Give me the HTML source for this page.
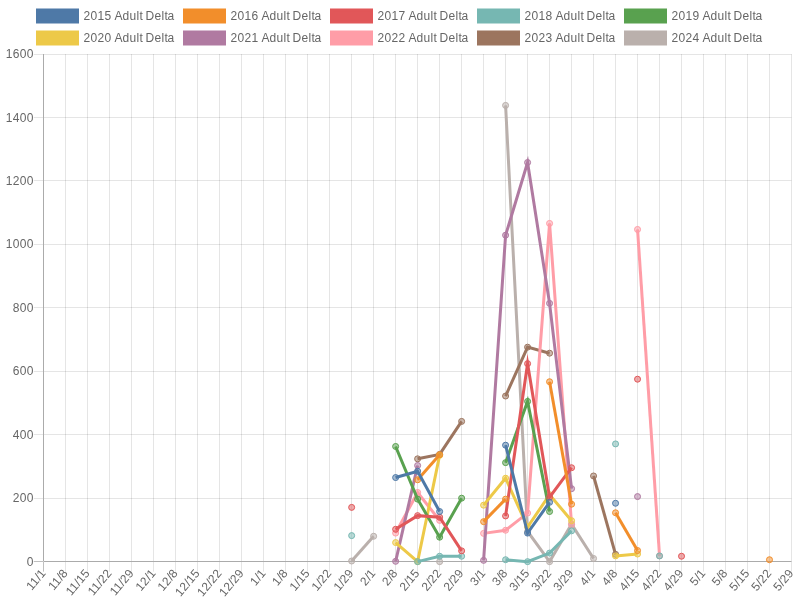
<!DOCTYPE html>
<html lang="en">
<head>
<meta charset="utf-8">
<title>Adult Delta</title>
<style>
html,body{margin:0;padding:0;background:#fff;}
body{width:800px;height:600px;overflow:hidden;}
svg{display:block;}
svg text{font-family:"Liberation Sans",Arial,Helvetica,sans-serif;font-size:12px;fill:#666;}
.g{stroke:rgba(0,0,0,0.1);stroke-width:1;fill:none;}
.z{stroke:rgba(0,0,0,0.25);stroke-width:1;fill:none;}
.ln{fill:none;stroke-width:3;stroke-linejoin:miter;stroke-miterlimit:10;stroke-linecap:butt;}
.pt{stroke-width:1;}
</style>
</head>
<body>
<svg width="800" height="600" viewBox="0 0 800 600">
<g id="legend">
<rect x="37.5" y="10" width="40" height="12" fill="#4E79A7" stroke="#4E79A7" stroke-width="3"/><text x="83.5 90.5 97.5 104.5 111.5 114.5 122.5 129.5 136.5 139.5 142.5 145.5 154.5 161.5 164.5 167.5" y="20">2015 Adult Delta</text>
<rect x="184.5" y="10" width="40" height="12" fill="#F28E2B" stroke="#F28E2B" stroke-width="3"/><text x="230.5 237.5 244.5 251.5 258.5 261.5 269.5 276.5 283.5 286.5 289.5 292.5 301.5 308.5 311.5 314.5" y="20">2016 Adult Delta</text>
<rect x="331.5" y="10" width="40" height="12" fill="#E15759" stroke="#E15759" stroke-width="3"/><text x="377.5 384.5 391.5 398.5 405.5 408.5 416.5 423.5 430.5 433.5 436.5 439.5 448.5 455.5 458.5 461.5" y="20">2017 Adult Delta</text>
<rect x="478.5" y="10" width="40" height="12" fill="#76B7B2" stroke="#76B7B2" stroke-width="3"/><text x="524.5 531.5 538.5 545.5 552.5 555.5 563.5 570.5 577.5 580.5 583.5 586.5 595.5 602.5 605.5 608.5" y="20">2018 Adult Delta</text>
<rect x="625.5" y="10" width="40" height="12" fill="#59A14F" stroke="#59A14F" stroke-width="3"/><text x="671.5 678.5 685.5 692.5 699.5 702.5 710.5 717.5 724.5 727.5 730.5 733.5 742.5 749.5 752.5 755.5" y="20">2019 Adult Delta</text>
<rect x="37.5" y="32" width="40" height="12" fill="#EDC948" stroke="#EDC948" stroke-width="3"/><text x="83.5 90.5 97.5 104.5 111.5 114.5 122.5 129.5 136.5 139.5 142.5 145.5 154.5 161.5 164.5 167.5" y="42">2020 Adult Delta</text>
<rect x="184.5" y="32" width="40" height="12" fill="#B07AA1" stroke="#B07AA1" stroke-width="3"/><text x="230.5 237.5 244.5 251.5 258.5 261.5 269.5 276.5 283.5 286.5 289.5 292.5 301.5 308.5 311.5 314.5" y="42">2021 Adult Delta</text>
<rect x="331.5" y="32" width="40" height="12" fill="#FF9DA7" stroke="#FF9DA7" stroke-width="3"/><text x="377.5 384.5 391.5 398.5 405.5 408.5 416.5 423.5 430.5 433.5 436.5 439.5 448.5 455.5 458.5 461.5" y="42">2022 Adult Delta</text>
<rect x="478.5" y="32" width="40" height="12" fill="#9C755F" stroke="#9C755F" stroke-width="3"/><text x="524.5 531.5 538.5 545.5 552.5 555.5 563.5 570.5 577.5 580.5 583.5 586.5 595.5 602.5 605.5 608.5" y="42">2023 Adult Delta</text>
<rect x="625.5" y="32" width="40" height="12" fill="#BAB0AC" stroke="#BAB0AC" stroke-width="3"/><text x="671.5 678.5 685.5 692.5 699.5 702.5 710.5 717.5 724.5 727.5 730.5 733.5 742.5 749.5 752.5 755.5" y="42">2024 Adult Delta</text>
</g>
<g id="grid">
<path class="z" d="M43.5 54V561M43.5 562V571.63"/><path class="g" d="M65.5 54V561M65.5 562V571.63"/><path class="g" d="M87.5 54V561M87.5 562V571.63"/><path class="g" d="M109.5 54V561M109.5 562V571.63"/><path class="g" d="M131.5 54V561M131.5 562V571.63"/><path class="g" d="M153.5 54V561M153.5 562V571.63"/><path class="g" d="M175.5 54V561M175.5 562V571.63"/><path class="g" d="M197.5 54V561M197.5 562V571.63"/><path class="g" d="M219.5 54V561M219.5 562V571.63"/><path class="g" d="M241.5 54V561M241.5 562V571.63"/><path class="g" d="M263.5 54V561M263.5 562V571.63"/><path class="g" d="M285.5 54V561M285.5 562V571.63"/><path class="g" d="M307.5 54V561M307.5 562V571.63"/><path class="g" d="M329.5 54V561M329.5 562V571.63"/><path class="g" d="M351.5 54V561M351.5 562V571.63"/><path class="g" d="M373.5 54V561M373.5 562V571.63"/><path class="g" d="M395.5 54V561M395.5 562V571.63"/><path class="g" d="M417.5 54V561M417.5 562V571.63"/><path class="g" d="M439.5 54V561M439.5 562V571.63"/><path class="g" d="M461.5 54V561M461.5 562V571.63"/><path class="g" d="M483.5 54V561M483.5 562V571.63"/><path class="g" d="M505.5 54V561M505.5 562V571.63"/><path class="g" d="M527.5 54V561M527.5 562V571.63"/><path class="g" d="M549.5 54V561M549.5 562V571.63"/><path class="g" d="M571.5 54V561M571.5 562V571.63"/><path class="g" d="M593.5 54V561M593.5 562V571.63"/><path class="g" d="M615.5 54V561M615.5 562V571.63"/><path class="g" d="M637.5 54V561M637.5 562V571.63"/><path class="g" d="M659.5 54V561M659.5 562V571.63"/><path class="g" d="M681.5 54V561M681.5 562V571.63"/><path class="g" d="M703.5 54V561M703.5 562V571.63"/><path class="g" d="M725.5 54V561M725.5 562V571.63"/><path class="g" d="M747.5 54V561M747.5 562V571.63"/><path class="g" d="M769.5 54V561M769.5 562V571.63"/><path class="g" d="M791.5 54V561M791.5 562V571.63"/>
<path class="z" d="M33.76 561.5H43M44 561.5H791.49"/><path class="g" d="M33.76 498.5H43M44 498.5H791.49"/><path class="g" d="M33.76 434.5H43M44 434.5H791.49"/><path class="g" d="M33.76 371.5H43M44 371.5H791.49"/><path class="g" d="M33.76 307.5H43M44 307.5H791.49"/><path class="g" d="M33.76 244.5H43M44 244.5H791.49"/><path class="g" d="M33.76 180.5H43M44 180.5H791.49"/><path class="g" d="M33.76 117.5H43M44 117.5H791.49"/><path class="g" d="M33.76 54.5H43M44 54.5H791.49"/>
<path class="g" d="M43 561.5H792"/><path class="g" d="M43.5 54V562"/>
</g>
<g id="yaxis">
<text x="26.76" y="566">0</text><text x="12.76 19.76 26.76" y="502">200</text><text x="12.76 19.76 26.76" y="439">400</text><text x="12.76 19.76 26.76" y="375">600</text><text x="12.76 19.76 26.76" y="312">800</text><text x="5.76 12.76 19.76 26.76" y="248">1000</text><text x="5.76 12.76 19.76 26.76" y="185">1200</text><text x="5.76 12.76 19.76 26.76" y="122">1400</text><text x="5.76 12.76 19.76 26.76" y="58">1600</text>
</g>
<g id="xaxis">
<text transform="translate(43.76,571.63) rotate(-50)" x="-22.6 -16.6 -9.6 -6.6" y="3.2">11/1</text><text transform="translate(65.75,571.63) rotate(-50)" x="-22.6 -16.6 -9.6 -6.6" y="3.2">11/8</text><text transform="translate(87.74,571.63) rotate(-50)" x="-29.6 -23.6 -16.6 -13.6 -6.6" y="3.2">11/15</text><text transform="translate(109.74,571.63) rotate(-50)" x="-29.6 -23.6 -16.6 -13.6 -6.6" y="3.2">11/22</text><text transform="translate(131.73,571.63) rotate(-50)" x="-29.6 -23.6 -16.6 -13.6 -6.6" y="3.2">11/29</text><text transform="translate(153.72,571.63) rotate(-50)" x="-23.6 -16.6 -9.6 -6.6" y="3.2">12/1</text><text transform="translate(175.71,571.63) rotate(-50)" x="-23.6 -16.6 -9.6 -6.6" y="3.2">12/8</text><text transform="translate(197.7,571.63) rotate(-50)" x="-30.6 -23.6 -16.6 -13.6 -6.6" y="3.2">12/15</text><text transform="translate(219.7,571.63) rotate(-50)" x="-30.6 -23.6 -16.6 -13.6 -6.6" y="3.2">12/22</text><text transform="translate(241.69,571.63) rotate(-50)" x="-30.6 -23.6 -16.6 -13.6 -6.6" y="3.2">12/29</text><text transform="translate(263.68,571.63) rotate(-50)" x="-16.6 -9.6 -6.6" y="3.2">1/1</text><text transform="translate(285.67,571.63) rotate(-50)" x="-16.6 -9.6 -6.6" y="3.2">1/8</text><text transform="translate(307.66,571.63) rotate(-50)" x="-23.6 -16.6 -13.6 -6.6" y="3.2">1/15</text><text transform="translate(329.65,571.63) rotate(-50)" x="-23.6 -16.6 -13.6 -6.6" y="3.2">1/22</text><text transform="translate(351.65,571.63) rotate(-50)" x="-23.6 -16.6 -13.6 -6.6" y="3.2">1/29</text><text transform="translate(373.64,571.63) rotate(-50)" x="-16.6 -9.6 -6.6" y="3.2">2/1</text><text transform="translate(395.63,571.63) rotate(-50)" x="-16.6 -9.6 -6.6" y="3.2">2/8</text><text transform="translate(417.62,571.63) rotate(-50)" x="-23.6 -16.6 -13.6 -6.6" y="3.2">2/15</text><text transform="translate(439.61,571.63) rotate(-50)" x="-23.6 -16.6 -13.6 -6.6" y="3.2">2/22</text><text transform="translate(461.61,571.63) rotate(-50)" x="-23.6 -16.6 -13.6 -6.6" y="3.2">2/29</text><text transform="translate(483.6,571.63) rotate(-50)" x="-16.6 -9.6 -6.6" y="3.2">3/1</text><text transform="translate(505.59,571.63) rotate(-50)" x="-16.6 -9.6 -6.6" y="3.2">3/8</text><text transform="translate(527.58,571.63) rotate(-50)" x="-23.6 -16.6 -13.6 -6.6" y="3.2">3/15</text><text transform="translate(549.57,571.63) rotate(-50)" x="-23.6 -16.6 -13.6 -6.6" y="3.2">3/22</text><text transform="translate(571.57,571.63) rotate(-50)" x="-23.6 -16.6 -13.6 -6.6" y="3.2">3/29</text><text transform="translate(593.56,571.63) rotate(-50)" x="-16.6 -9.6 -6.6" y="3.2">4/1</text><text transform="translate(615.55,571.63) rotate(-50)" x="-16.6 -9.6 -6.6" y="3.2">4/8</text><text transform="translate(637.54,571.63) rotate(-50)" x="-23.6 -16.6 -13.6 -6.6" y="3.2">4/15</text><text transform="translate(659.53,571.63) rotate(-50)" x="-23.6 -16.6 -13.6 -6.6" y="3.2">4/22</text><text transform="translate(681.53,571.63) rotate(-50)" x="-23.6 -16.6 -13.6 -6.6" y="3.2">4/29</text><text transform="translate(703.52,571.63) rotate(-50)" x="-16.6 -9.6 -6.6" y="3.2">5/1</text><text transform="translate(725.51,571.63) rotate(-50)" x="-16.6 -9.6 -6.6" y="3.2">5/8</text><text transform="translate(747.5,571.63) rotate(-50)" x="-23.6 -16.6 -13.6 -6.6" y="3.2">5/15</text><text transform="translate(769.49,571.63) rotate(-50)" x="-23.6 -16.6 -13.6 -6.6" y="3.2">5/22</text><text transform="translate(791.49,571.63) rotate(-50)" x="-23.6 -16.6 -13.6 -6.6" y="3.2">5/29</text>
</g>
<defs><clipPath id="area"><rect x="42.26" y="52.5" width="750.73" height="510.63"/></clipPath></defs>
<g id="series">
<g stroke="#BAB0AC">
<polyline class="ln" clip-path="url(#area)" points="351.65,561 373.64,536.25"/>
<polyline class="ln" clip-path="url(#area)" points="505.59,105.4 527.58,531.49 549.57,561.63 571.57,524.19 593.56,558.46"/>
<g class="pt" fill="rgba(186,176,172,0.5)"><circle cx="351.65" cy="561" r="3"/><circle cx="373.64" cy="536.25" r="3"/><circle cx="439.61" cy="561.63" r="3"/><circle cx="505.59" cy="105.4" r="3"/><circle cx="527.58" cy="531.49" r="3"/><circle cx="549.57" cy="561.63" r="3"/><circle cx="571.57" cy="524.19" r="3"/><circle cx="593.56" cy="558.46" r="3"/></g>
</g>
<g stroke="#9C755F">
<polyline class="ln" clip-path="url(#area)" points="417.62,458.83 439.61,454.39 461.61,421.4"/>
<polyline class="ln" clip-path="url(#area)" points="505.59,396.02 527.58,347.16 549.57,353.18"/>
<polyline class="ln" clip-path="url(#area)" points="593.56,475.97 615.55,554.33"/>
<g class="pt" fill="rgba(156,117,95,0.5)"><circle cx="417.62" cy="458.83" r="3"/><circle cx="439.61" cy="454.39" r="3"/><circle cx="461.61" cy="421.4" r="3"/><circle cx="505.59" cy="396.02" r="3"/><circle cx="527.58" cy="347.16" r="3"/><circle cx="549.57" cy="353.18" r="3"/><circle cx="593.56" cy="475.97" r="3"/><circle cx="615.55" cy="554.33" r="3"/></g>
</g>
<g stroke="#FF9DA7">
<polyline class="ln" clip-path="url(#area)" points="395.63,533.08 417.62,492.47 439.61,520.39"/>
<polyline class="ln" clip-path="url(#area)" points="483.6,533.39 505.59,530.22 527.58,513.09 549.57,223.42 571.57,524.51"/>
<polyline class="ln" clip-path="url(#area)" points="637.54,229.45 659.53,555.92"/>
<g class="pt" fill="rgba(255,157,167,0.5)"><circle cx="395.63" cy="533.08" r="3"/><circle cx="417.62" cy="492.47" r="3"/><circle cx="439.61" cy="520.39" r="3"/><circle cx="483.6" cy="533.39" r="3"/><circle cx="505.59" cy="530.22" r="3"/><circle cx="527.58" cy="513.09" r="3"/><circle cx="549.57" cy="223.42" r="3"/><circle cx="571.57" cy="524.51" r="3"/><circle cx="637.54" cy="229.45" r="3"/><circle cx="659.53" cy="555.92" r="3"/></g>
</g>
<g stroke="#B07AA1">
<polyline class="ln" clip-path="url(#area)" points="395.63,561.31 417.62,465.5"/>
<polyline class="ln" clip-path="url(#area)" points="483.6,560.36 505.59,235.16 527.58,162.51 549.57,303.37 571.57,488.66"/>
<g class="pt" fill="rgba(176,122,161,0.5)"><circle cx="395.63" cy="561.31" r="3"/><circle cx="417.62" cy="465.5" r="3"/><circle cx="483.6" cy="560.36" r="3"/><circle cx="505.59" cy="235.16" r="3"/><circle cx="527.58" cy="162.51" r="3"/><circle cx="549.57" cy="303.37" r="3"/><circle cx="571.57" cy="488.66" r="3"/><circle cx="637.54" cy="496.59" r="3"/></g>
</g>
<g stroke="#EDC948">
<polyline class="ln" clip-path="url(#area)" points="395.63,542.59 417.62,561.63 439.61,455.34"/>
<polyline class="ln" clip-path="url(#area)" points="483.6,505.16 505.59,478.19 527.58,527.05 549.57,494.69 571.57,520.7"/>
<polyline class="ln" clip-path="url(#area)" points="615.55,555.92 637.54,554.02"/>
<g class="pt" fill="rgba(237,201,72,0.5)"><circle cx="395.63" cy="542.59" r="3"/><circle cx="417.62" cy="561.63" r="3"/><circle cx="439.61" cy="455.34" r="3"/><circle cx="483.6" cy="505.16" r="3"/><circle cx="505.59" cy="478.19" r="3"/><circle cx="527.58" cy="527.05" r="3"/><circle cx="549.57" cy="494.69" r="3"/><circle cx="571.57" cy="520.7" r="3"/><circle cx="615.55" cy="555.92" r="3"/><circle cx="637.54" cy="554.02" r="3"/></g>
</g>
<g stroke="#59A14F">
<polyline class="ln" clip-path="url(#area)" points="395.63,446.46 417.62,499.13 439.61,537.2 461.61,498.18"/>
<polyline class="ln" clip-path="url(#area)" points="505.59,462.64 527.58,401.41 549.57,511.5"/>
<g class="pt" fill="rgba(89,161,79,0.5)"><circle cx="395.63" cy="446.46" r="3"/><circle cx="417.62" cy="499.13" r="3"/><circle cx="439.61" cy="537.2" r="3"/><circle cx="461.61" cy="498.18" r="3"/><circle cx="505.59" cy="462.64" r="3"/><circle cx="527.58" cy="401.41" r="3"/><circle cx="549.57" cy="511.5" r="3"/></g>
</g>
<g stroke="#76B7B2">
<polyline class="ln" clip-path="url(#area)" points="417.62,561.63 439.61,556.24 461.61,556.24"/>
<polyline class="ln" clip-path="url(#area)" points="505.59,559.73 527.58,561.63 549.57,553.06 571.57,530.85"/>
<g class="pt" fill="rgba(118,183,178,0.5)"><circle cx="351.65" cy="535.61" r="3"/><circle cx="417.62" cy="561.63" r="3"/><circle cx="439.61" cy="556.24" r="3"/><circle cx="461.61" cy="556.24" r="3"/><circle cx="505.59" cy="559.73" r="3"/><circle cx="527.58" cy="561.63" r="3"/><circle cx="549.57" cy="553.06" r="3"/><circle cx="571.57" cy="530.85" r="3"/><circle cx="615.55" cy="443.92" r="3"/><circle cx="659.53" cy="555.92" r="3"/></g>
</g>
<g stroke="#E15759">
<polyline class="ln" clip-path="url(#area)" points="395.63,529.27 417.62,515.63 439.61,517.21 461.61,550.84"/>
<polyline class="ln" clip-path="url(#area)" points="505.59,515.94 527.58,363.65 549.57,497.22 571.57,467.72"/>
<g class="pt" fill="rgba(225,87,89,0.5)"><circle cx="351.65" cy="507.38" r="3"/><circle cx="395.63" cy="529.27" r="3"/><circle cx="417.62" cy="515.63" r="3"/><circle cx="439.61" cy="517.21" r="3"/><circle cx="461.61" cy="550.84" r="3"/><circle cx="505.59" cy="515.94" r="3"/><circle cx="527.58" cy="363.65" r="3"/><circle cx="549.57" cy="497.22" r="3"/><circle cx="571.57" cy="467.72" r="3"/><circle cx="637.54" cy="379.2" r="3"/><circle cx="681.53" cy="556.24" r="3"/></g>
</g>
<g stroke="#F28E2B">
<polyline class="ln" clip-path="url(#area)" points="417.62,479.77 439.61,454.71"/>
<polyline class="ln" clip-path="url(#area)" points="483.6,521.65 505.59,499.13"/>
<polyline class="ln" clip-path="url(#area)" points="549.57,381.74 571.57,504.2"/>
<polyline class="ln" clip-path="url(#area)" points="615.55,512.77 637.54,550.53"/>
<g class="pt" fill="rgba(242,142,43,0.5)"><circle cx="417.62" cy="479.77" r="3"/><circle cx="439.61" cy="454.71" r="3"/><circle cx="483.6" cy="521.65" r="3"/><circle cx="505.59" cy="499.13" r="3"/><circle cx="549.57" cy="381.74" r="3"/><circle cx="571.57" cy="504.2" r="3"/><circle cx="615.55" cy="512.77" r="3"/><circle cx="637.54" cy="550.53" r="3"/><circle cx="769.49" cy="559.73" r="3"/></g>
</g>
<g stroke="#4E79A7">
<polyline class="ln" clip-path="url(#area)" points="395.63,477.55 417.62,471.21 439.61,511.5"/>
<polyline class="ln" clip-path="url(#area)" points="505.59,445.19 527.58,533.08 549.57,502.3"/>
<g class="pt" fill="rgba(78,121,167,0.5)"><circle cx="395.63" cy="477.55" r="3"/><circle cx="417.62" cy="471.21" r="3"/><circle cx="439.61" cy="511.5" r="3"/><circle cx="505.59" cy="445.19" r="3"/><circle cx="527.58" cy="533.08" r="3"/><circle cx="549.57" cy="502.3" r="3"/><circle cx="615.55" cy="503.25" r="3"/></g>
</g>
</g>
</svg>
</body>
</html>
